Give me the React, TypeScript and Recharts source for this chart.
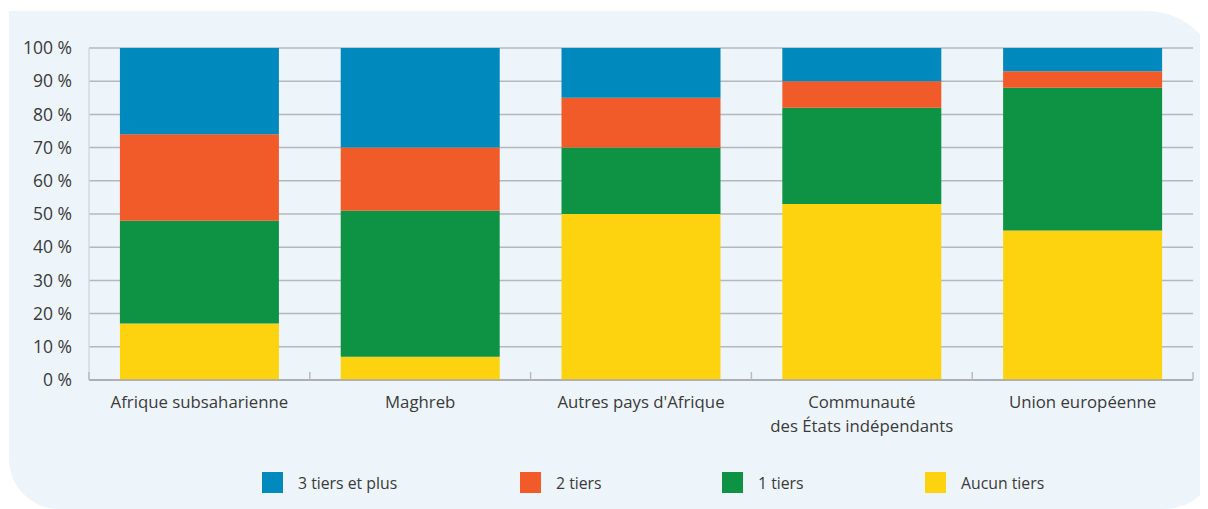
import React from "react";
import { BarChart, Bar, XAxis, YAxis, CartesianGrid, Legend } from "recharts";

const categories = [
  "Afrique subsaharienne",
  "Maghreb",
  "Autres pays d'Afrique",
  "Communauté\ndes États indépendants",
  "Union européenne",
];
const aucunTiers = [17, 7, 50, 53, 45];
const unTiers = [31, 44, 20, 29, 43];
const deuxTiers = [26, 19, 15, 8, 5];
const troisTiersPlus = [26, 30, 15, 10, 7];
const yTicks = [0, 10, 20, 30, 40, 50, 60, 70, 80, 90, 100];

const seriesInfo = [
  { key: "troisPlus", name: "3 tiers et plus", color: "#0089BC" },
  { key: "deux", name: "2 tiers", color: "#F15A29" },
  { key: "un", name: "1 tiers", color: "#0E9345" },
  { key: "aucun", name: "Aucun tiers", color: "#FDD20E" },
];

const data = categories.map((c, i) => ({
  name: c,
  aucun: aucunTiers[i],
  un: unTiers[i],
  deux: deuxTiers[i],
  troisPlus: troisTiersPlus[i],
}));

const FONT = "'Open Sans', sans-serif";
const TEXT = "#3a3a3a";
const W = 1200;
const H = 501;
const M = { top: 40, right: 15, left: 0, bottom: 0 };
const YW = 81;
const BAND_HALF = (W - M.right - M.left - YW) / categories.length / 2;

const XTick = (props: any) => {
  const { x, y, payload, index } = props;
  const half = payload && payload.offset > 0 ? payload.offset : BAND_HALF;
  const lines = String(payload.value).split("\n");
  return (
    <g>
      <line x1={x - half} x2={x - half} y1={y - 8} y2={y} stroke="#b8bcc0" strokeWidth={1.5} />
      {index === categories.length - 1 && (
        <line x1={x + half} x2={x + half} y1={y - 8} y2={y} stroke="#b8bcc0" strokeWidth={1.5} />
      )}
      {lines.map((l, i) => (
        <text
          key={i}
          x={x}
          y={y + 28 + i * 24}
          textAnchor="middle"
          fontFamily={FONT}
          fontSize={16.8}
          fill={TEXT}
        >
          {l}
        </text>
      ))}
    </g>
  );
};

const legendLefts = [254, 512, 714, 917];

const LegendContent = () => (
  <div style={{ position: "relative", height: 69, width: W }}>
    {seriesInfo.map((s, i) => (
      <div
        key={s.key}
        style={{
          position: "absolute",
          left: legendLefts[i],
          top: 32,
          display: "flex",
          alignItems: "center",
          height: 21,
        }}
      >
        <div style={{ width: 21, height: 21, background: s.color }} />
        <span
          style={{
            marginLeft: 15,
            fontFamily: FONT,
            fontSize: 15.8,
            color: TEXT,
            whiteSpace: "nowrap",
          }}
        >
          {s.name}
        </span>
      </div>
    ))}
  </div>
);

export default function App() {
  return (
    <div style={{ position: "relative", width: W, height: H, overflow: "hidden" }}>
      <div
        style={{
          position: "absolute",
          left: 1,
          top: 3,
          width: 1210,
          height: 498,
          background: "#EEF5FA",
          borderRadius: "0 72px 55px 50px",
        }}
      />
      <div style={{ position: "absolute", left: 0, top: 0 }}>
        <BarChart width={W} height={H} data={data} margin={M} barCategoryGap="14%">
          <CartesianGrid vertical={false} stroke="#b4b8bc" strokeWidth={1.5} />
          <XAxis
            dataKey="name"
            interval={0}
            tickLine={false}
            tickSize={0}
            tickMargin={0}
            height={60}
            axisLine={{ stroke: "#a4a8ac", strokeWidth: 1.5 }}
            tick={<XTick />}
          />
          <YAxis
            width={YW}
            domain={[0, 100]}
            ticks={yTicks}
            interval={0}
            tickLine={false}
            tickSize={0}
            tickMargin={17}
            axisLine={{ stroke: "#d4d8dc", strokeWidth: 1.5 }}
            tickFormatter={(v: number) => `${v} %`}
            tick={{ fontFamily: FONT, fontSize: 17.5, fill: TEXT }}
          />
          <Legend verticalAlign="bottom" height={69} content={<LegendContent />} />
          <Bar dataKey="aucun" name="Aucun tiers" stackId="a" fill="#FDD20E" isAnimationActive={false} />
          <Bar dataKey="un" name="1 tiers" stackId="a" fill="#0E9345" isAnimationActive={false} />
          <Bar dataKey="deux" name="2 tiers" stackId="a" fill="#F15A29" isAnimationActive={false} />
          <Bar dataKey="troisPlus" name="3 tiers et plus" stackId="a" fill="#0089BC" isAnimationActive={false} />
        </BarChart>
      </div>
    </div>
  );
}
